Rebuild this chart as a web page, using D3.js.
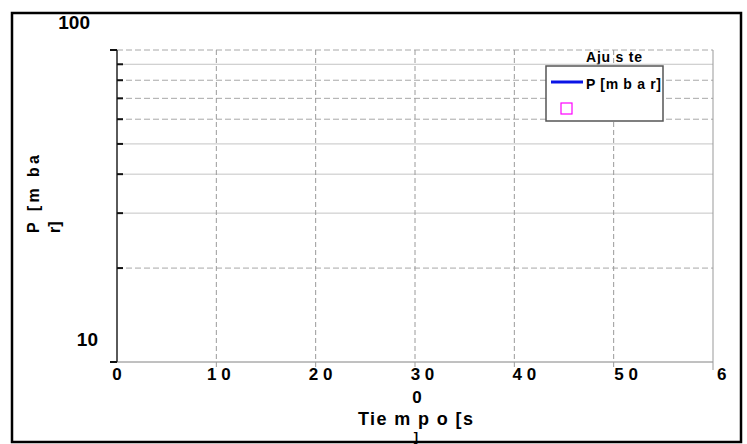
<!DOCTYPE html>
<html>
<head>
<meta charset="utf-8">
<script src="https://cdn.jsdelivr.net/npm/d3@7"></script>
<style>
  body { margin: 0; background: #fff; }
  text { font-family: "Liberation Sans", Arial, sans-serif; font-weight: bold; fill: #000; }
</style>
</head>
<body>
<div id="chart"></div>
<script>
// axis values
const xTicks = [0, 100, 200, 300, 400, 500, 600];
const xTickLabels = ["0", "1 0", "2 0", "3 0", "4 0", "5 0", "6"];
const yTicks = [10, 20, 30, 40, 50, 60, 70, 80, 90, 100];
const yTickLabels = ["10", "100"];
const yDashed = [20, 60, 70, 80, 100];

// the series are empty in the reference (nothing plotted)
const seriesP = [];
const seriesFit = [];

const W = 747, H = 444;
const margin = {top: 50, right: 34, bottom: 82, left: 117};

const svg = d3.select("#chart").append("svg")
    .attr("width", W)
    .attr("height", H);

const x = d3.scaleLinear()
    .domain([0, 600])
    .range([margin.left, W - margin.right]);

const y = d3.scaleLog()
    .domain([10, 100])
    .range([H - margin.bottom, margin.top]);

// legend title sits behind the grid
svg.append("text")
    .attr("x", 614).attr("y", 62)
    .attr("text-anchor", "middle")
    .attr("font-size", 14)
    .attr("textLength", 56)
    .attr("lengthAdjust", "spacing")
    .text("Aju s te");

// horizontal grid
svg.append("g")
    .selectAll("line")
    .data(yTicks)
    .join("line")
    .attr("x1", x(0)).attr("x2", x(600))
    .attr("y1", d => y(d)).attr("y2", d => y(d))
    .attr("stroke", d => yDashed.includes(d) ? "#a8a8a8" : "#c4c4c4")
    .attr("stroke-width", 1)
    .attr("stroke-dasharray", d => yDashed.includes(d) ? "6,3" : null);

// vertical grid, running a bit below the axis like ticks
svg.append("g")
    .selectAll("line")
    .data(xTicks.slice(1, -1))
    .join("line")
    .attr("x1", d => x(d)).attr("x2", d => x(d))
    .attr("y1", y(100)).attr("y2", y(10) + 8)
    .attr("stroke", "#9a9a9a")
    .attr("stroke-dasharray", "5,3");

// frame of the plot
svg.append("line")
    .attr("x1", x(0) - 7).attr("x2", x(600))
    .attr("y1", y(10)).attr("y2", y(10))
    .attr("stroke", "#a0a0a0");
svg.append("line")
    .attr("x1", x(600)).attr("x2", x(600))
    .attr("y1", y(100)).attr("y2", y(10) + 8)
    .attr("stroke", "#999");
svg.append("line")
    .attr("x1", x(0)).attr("x2", x(0))
    .attr("y1", y(100)).attr("y2", y(10))
    .attr("stroke", "#5a5a5a")
    .attr("stroke-width", 2);

// y ticks: decades outside, minor inside
svg.append("g")
    .selectAll("line")
    .data(yTicks)
    .join("line")
    .attr("x1", d => (d === 10 || d === 100) ? x(0) - 7 : x(0))
    .attr("x2", d => (d === 10 || d === 100) ? x(0) : x(0) + 6)
    .attr("y1", d => y(d)).attr("y2", d => y(d))
    .attr("stroke", "#111")
    .attr("stroke-width", 2);

// y tick labels (drawn oddly above their ticks in the reference)
svg.append("g")
    .selectAll("text")
    .data(yTickLabels)
    .join("text")
    .attr("x", (d, i) => i === 0 ? x(0) - 19 : x(0) - 27)
    .attr("y", (d, i) => i === 0 ? y(+d) - 16 : y(+d) - 21)
    .attr("text-anchor", "end")
    .attr("font-size", 19)
    .text(d => d);

// x tick labels
svg.append("g")
    .selectAll("text")
    .data(xTicks)
    .join("text")
    .attr("x", (d, i) => i === xTicks.length - 1 ? x(d) + 4 : x(d) + d * 0.025)
    .attr("y", y(10) + 18)
    .attr("text-anchor", (d, i) => i === xTicks.length - 1 ? "start" : "middle")
    .attr("font-size", 17)
    .text((d, i) => xTickLabels[i]);
svg.append("text")
    .attr("x", x(300) + 2).attr("y", y(10) + 41)
    .attr("text-anchor", "middle")
    .attr("font-size", 17)
    .text("0");

// series (empty)
const line = d3.line().x(d => x(d[0])).y(d => y(d[1]));
svg.append("path")
    .datum(seriesP)
    .attr("fill", "none")
    .attr("stroke", "#0000ff")
    .attr("stroke-width", 2)
    .attr("d", line);
svg.append("g")
    .selectAll("rect")
    .data(seriesFit)
    .join("rect")
    .attr("x", d => x(d[0]) - 5).attr("y", d => y(d[1]) - 5)
    .attr("width", 10).attr("height", 10)
    .attr("fill", "none").attr("stroke", "#ff00ff");

// legend
const lg = svg.append("g");
lg.append("rect")
    .attr("x", 546).attr("y", 66)
    .attr("width", 117).attr("height", 55)
    .attr("fill", "#fff")
    .attr("stroke", "#555")
    .attr("stroke-width", 1.5);
lg.append("line")
    .attr("x1", 551).attr("x2", 583)
    .attr("y1", 82).attr("y2", 82)
    .attr("stroke", "#0a14e6")
    .attr("stroke-width", 3);
lg.append("text")
    .attr("x", 586).attr("y", 89)
    .attr("font-size", 14)
    .attr("textLength", 75)
    .attr("lengthAdjust", "spacing")
    .text("P [m b a r]");
lg.append("rect")
    .attr("x", 561).attr("y", 103)
    .attr("width", 11).attr("height", 11)
    .attr("fill", "none")
    .attr("stroke", "#ff00ff")
    .attr("stroke-width", 1.2);

// axis titles, wrapped like the reference
svg.append("text")
    .attr("x", 358).attr("y", 425)
    .attr("font-size", 18)
    .attr("textLength", 115)
    .attr("lengthAdjust", "spacing")
    .text("Tie m p o [s");
svg.append("text")
    .attr("x", 416).attr("y", 441)
    .attr("text-anchor", "middle")
    .attr("font-size", 13)
    .text("]");

svg.append("text")
    .attr("transform", "translate(39,233) rotate(-90)")
    .attr("font-size", 16)
    .attr("textLength", 78)
    .attr("lengthAdjust", "spacing")
    .text("P [m ba");
svg.append("text")
    .attr("transform", "translate(60,233) rotate(-90)")
    .attr("font-size", 16)
    .text("r]");

// outer border
svg.append("rect")
    .attr("x", 12).attr("y", 13)
    .attr("width", 729).attr("height", 429)
    .attr("fill", "none")
    .attr("stroke", "#000")
    .attr("stroke-width", 2.5);
</script>
</body>
</html>
